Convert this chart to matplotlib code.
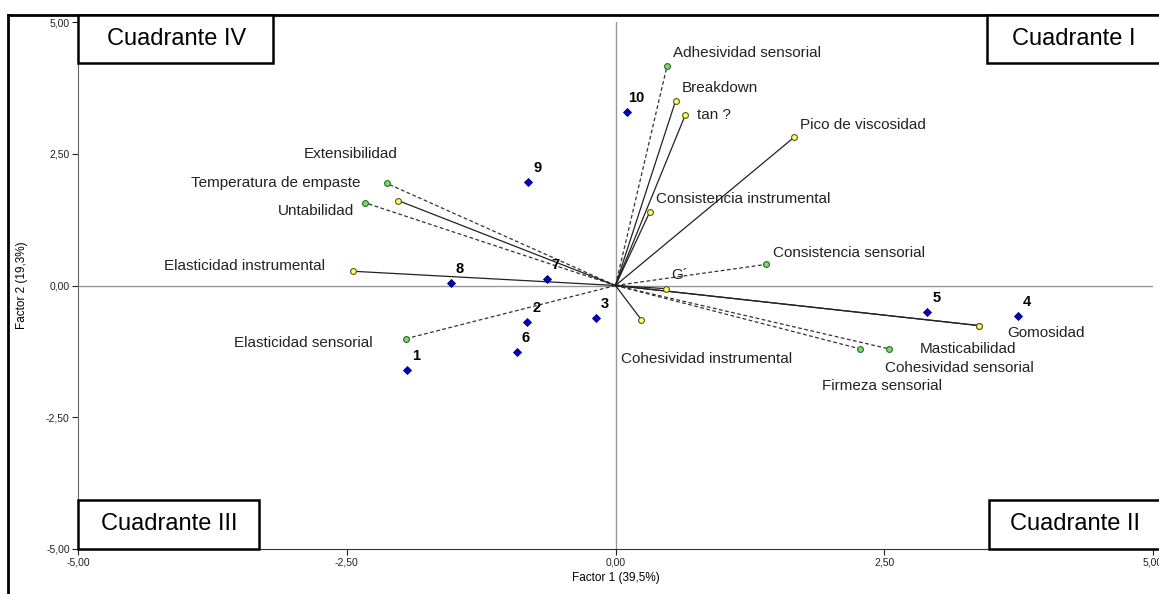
import matplotlib
matplotlib.use("Agg")
import matplotlib.pyplot as plt
from matplotlib.patches import Rectangle
from matplotlib.lines import Line2D

plt.rcParams['font.family'] = ['Liberation Sans', 'DejaVu Sans']

# objetos (muestras)
obj_labels = ['1', '2', '3', '4', '5', '6', '7', '8', '9', '10']
obj_f1 = [-1.94, -0.82, -0.18, 3.74, 2.90, -0.92, -0.64, -1.53, -0.81, 0.11]
obj_f2 = [-1.61, -0.70, -0.61, -0.57, -0.51, -1.27, 0.13, 0.04, 1.97, 3.30]

# variables sensoriales (verde, linea discontinua)
sens_names = ['Adhesividad sensorial', 'Extensibilidad', 'Untabilidad',
              'Consistencia sensorial', 'Elasticidad sensorial',
              'Firmeza sensorial', 'Cohesividad sensorial']
sens_f1 = [0.48, -2.13, -2.33, 1.40, -1.95, 2.27, 2.54]
sens_f2 = [4.17, 1.94, 1.57, 0.40, -1.01, -1.20, -1.20]

# variables instrumentales (amarillo, linea continua)
inst_names = ['Breakdown', 'tan ?', 'Pico de viscosidad',
              'Consistencia instrumental', 'Temperatura de empaste',
              'Elasticidad instrumental', 'G´', 'Cohesividad instrumental',
              'Masticabilidad', 'Gomosidad']
inst_f1 = [0.56, 0.65, 1.66, 0.32, -2.02, -2.44, 0.47, 0.24, 3.38, 3.38]
inst_f2 = [3.51, 3.24, 2.81, 1.40, 1.61, 0.27, -0.06, -0.65, -0.76, -0.76]

# desplazamiento de etiquetas (pixeles)
sens_off = [(6, 13), (-83, 29), (-87, -8), (7, 11), (-172, -4), (-38, -37), (-4, -19)]
inst_off = [(6, 13), (12, 0), (6, 12), (6, 13), (-207, 18), (-189, 5), (5, 14),
            (-20, -39), (-59, -23), (28, -7)]

W, H = 1159, 594
fig = plt.figure(figsize=(W / 100, H / 100), dpi=100)
ax = fig.add_axes([78 / W, 1 - 549 / H, (1153 - 78) / W, (549 - 22) / H])
ax.set_xlim(-5, 5)
ax.set_ylim(-5, 5)

ax.axhline(0, color='#999999', lw=1, zorder=1)
ax.axvline(0, color='#999999', lw=1, zorder=1)

for x, y in zip(sens_f1, sens_f2):
    ax.plot([0, x], [0, y], color='#333333', lw=0.9, ls=(0, (3, 2)), zorder=2)
for x, y in zip(inst_f1, inst_f2):
    ax.plot([0, x], [0, y], color='#222222', lw=0.9, zorder=2)

ax.plot(sens_f1, sens_f2, 'o', ms=4.2, mfc='#77DD66', mec='#336633', mew=0.8, ls='none', zorder=3)
ax.plot(inst_f1, inst_f2, 'o', ms=4.2, mfc='#FFFF66', mec='#555522', mew=0.8, ls='none', zorder=3)
ax.plot(obj_f1, obj_f2, 'D', ms=3.8, mfc='#0000CC', mec='#000066', mew=0.6, ls='none', zorder=3)

for name, x, y, off in zip(sens_names, sens_f1, sens_f2, sens_off):
    ax.annotate(name, (x, y), xytext=off, textcoords='offset pixels',
                ha='left', va='center', fontsize=11, color='#222222')
for name, x, y, off in zip(inst_names, inst_f1, inst_f2, inst_off):
    ax.annotate(name, (x, y), xytext=off, textcoords='offset pixels',
                ha='left', va='center', fontsize=11, color='#222222')
for lab, x, y in zip(obj_labels, obj_f1, obj_f2):
    ax.annotate(lab, (x, y), xytext=(9, 14), textcoords='offset pixels',
                ha='center', va='center', fontsize=10.5, fontweight='bold')

ticks = [-5, -2.5, 0, 2.5, 5]
tick_labels = ['-5,00', '-2,50', '0,00', '2,50', '5,00']
ax.set_xticks(ticks)
ax.set_xticklabels(tick_labels)
ax.set_yticks(ticks)
ax.set_yticklabels(tick_labels)
ax.tick_params(labelsize=7.5, length=4, width=0.8, pad=2, colors='#222222')
ax.spines['top'].set_visible(False)
ax.spines['right'].set_visible(False)
ax.spines['left'].set_color('#666666')
ax.spines['bottom'].set_color('#333333')
ax.set_xlabel('Factor 1 (39,5%)', fontsize=8.5, labelpad=3)
ax.set_ylabel('Factor 2 (19,3%)', fontsize=8.5)
ax.yaxis.set_label_coords((28 - 78) / 1075, 0.5)

# marco exterior
fig.add_artist(Line2D([8 / W, 8 / W], [0, 1 - 15 / H], color='black', lw=2))
fig.add_artist(Line2D([8 / W, 1], [1 - 15 / H, 1 - 15 / H], color='black', lw=2))

# cuadros de cuadrantes
quads = [('Cuadrante IV', 78, 15, 273, 63), ('Cuadrante I', 987, 15, 1162, 63),
         ('Cuadrante III', 78, 500, 259, 549), ('Cuadrante II', 989, 500, 1162, 549)]
for txt, x0, y0, x1, y1 in quads:
    fig.add_artist(Rectangle((x0 / W, 1 - y1 / H), (x1 - x0) / W, (y1 - y0) / H,
                             transform=fig.transFigure, fc='white', ec='black', lw=1.8,
                             zorder=5))
    fig.text((x0 + min(x1, W) + 2) / 2 / W, 1 - (y0 + y1) / 2 / H, txt,
             ha='center', va='center', fontsize=17, zorder=6)

fig.savefig('out.png', dpi=100)
